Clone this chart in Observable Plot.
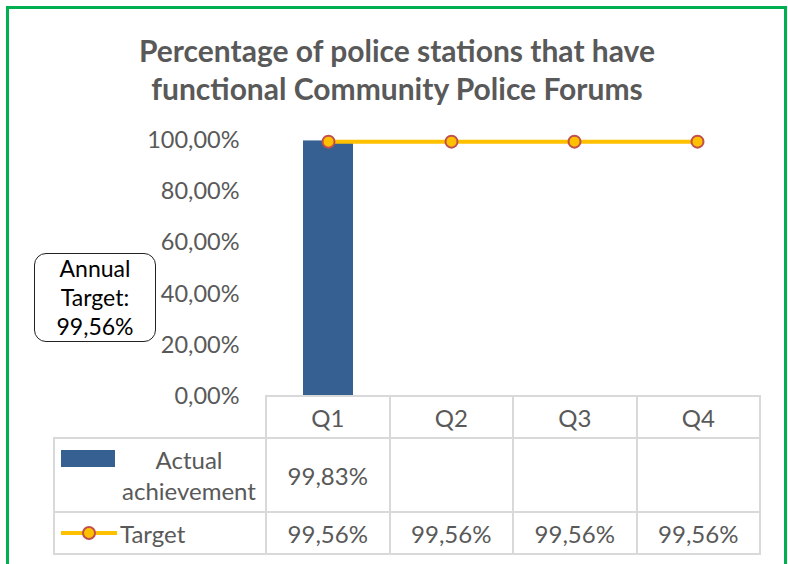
<!DOCTYPE html>
<html><head><meta charset="utf-8">
<script src="https://cdn.jsdelivr.net/npm/d3@7"></script>
<script src="https://cdn.jsdelivr.net/npm/@observablehq/plot@0.6"></script>
<style>
body{margin:0;background:#fff;}
#root{position:relative;width:788px;height:564px;overflow:hidden;font-family:Lato,"Open Sans",sans-serif;background:#fff;}
#frame{position:absolute;left:6px;top:6px;width:775px;height:640px;border:3px solid #00B050;}
#title{position:absolute;left:0;width:794px;top:31px;text-align:center;font-weight:bold;font-size:30px;line-height:38px;color:#595959;}
#chart{position:absolute;left:0;top:0;}
#note{position:absolute;left:34px;top:253px;width:122px;height:89px;box-sizing:border-box;border:1px solid #222;border-radius:12px;
  display:flex;align-items:center;justify-content:center;text-align:center;font-size:23px;line-height:29px;color:#000;background:#fff;}
#tbl{position:absolute;left:53px;top:395px;border-collapse:collapse;table-layout:fixed;color:#595959;font-size:24px;}
#tbl td{border:2px solid #D9D9D9;text-align:center;padding:0;position:relative;}
#tbl td.corner{border-top-style:hidden;border-left-style:hidden;}
</style></head>
<body>
<div id="root">
  <div id="frame"></div>
  <div id="title"></div>
  <div id="chart"></div>
  <div id="note"></div>
  <table id="tbl"></table>
</div>
<script>
const quarters = ["Q1", "Q2", "Q3", "Q4"];
const actualValues = [0.9983, null, null, null];
const targetValues = [0.9956, 0.9956, 0.9956, 0.9956];
const yTicks = [0, 0.2, 0.4, 0.6, 0.8, 1];
const seriesNames = ["Actual achievement", "Target"];
const annualTargetText = ["Annual", "Target:", "99,56%"];
const titleLines = ["Percentage of police stations that have", "functional Community Police Forums"];

const fmt = d => (d * 100).toFixed(2).replace(".", ",") + "%";
const barColor = "#376092", lineColor = "#FFC000", dotStroke = "#C0504D";

const barData = quarters.map((q, i) => ({q, v: actualValues[i]})).filter(d => d.v != null);
const lineData = quarters.map((q, i) => ({q, v: targetValues[i]})).filter(d => d.v != null);

document.getElementById("title").innerHTML = titleLines.join("<br>");
document.getElementById("note").innerHTML = annualTargetText.join("<br>");

const chart = Plot.plot({
  width: 788, height: 564,
  marginLeft: 266, marginRight: 29, marginTop: 140, marginBottom: 168,
  style: {background: "transparent", fontFamily: "Lato, 'Open Sans', sans-serif"},
  x: {domain: quarters, paddingInner: 0.59, paddingOuter: 0.295, axis: null},
  y: {domain: [0, 1]},
  marks: [
    Plot.axisY({ticks: yTicks, tickFormat: fmt, tickSize: 0, tickPadding: 27, fontSize: 23.5, color: "#595959", label: null}),
    Plot.barY(barData, {x: "q", y: "v", fill: barColor}),
    Plot.lineY(lineData, {x: "q", y: "v", stroke: lineColor, strokeWidth: 4}),
    Plot.dot(lineData, {x: "q", y: "v", r: 6, fill: lineColor, stroke: dotStroke, strokeWidth: 2})
  ]
});
document.getElementById("chart").append(chart);

// data table
const tbl = d3.select("#tbl");
const colg = tbl.append("colgroup");
colg.append("col").style("width", "212px");
quarters.forEach(() => colg.append("col").style("width", "123.5px"));

const head = tbl.append("tr").style("height", "42px");
head.append("td").attr("class", "corner");
quarters.forEach(q => head.append("td").text(q));

const r1 = tbl.append("tr").style("height", "74px");
const c1 = r1.append("td").style("padding-left", "58px").style("line-height", "31px");
c1.append("svg").attr("width", 54).attr("height", 17)
  .style("position", "absolute").style("left", "6px").style("top", "11px")
  .append("rect").attr("x", 0).attr("y", 0).attr("width", 54).attr("height", 17).attr("fill", barColor);
c1.append("span").html(seriesNames[0].replace(" ", "<br>"));
actualValues.forEach(v => r1.append("td").text(v == null ? "" : fmt(v)));

const r2 = tbl.append("tr").style("height", "42px");
const c2 = r2.append("td").style("padding-left", "65px").style("text-align", "left");
const lg = c2.append("svg").attr("width", 60).attr("height", 20)
  .style("position", "absolute").style("left", "4px").style("top", "10px");
lg.append("line").attr("x1", 2).attr("x2", 58).attr("y1", 10).attr("y2", 10).attr("stroke", lineColor).attr("stroke-width", 4);
lg.append("circle").attr("cx", 30).attr("cy", 10).attr("r", 6).attr("fill", lineColor).attr("stroke", dotStroke).attr("stroke-width", 2);
c2.append("span").text(seriesNames[1]);
targetValues.forEach(v => r2.append("td").text(v == null ? "" : fmt(v)));
</script>
</body></html>
